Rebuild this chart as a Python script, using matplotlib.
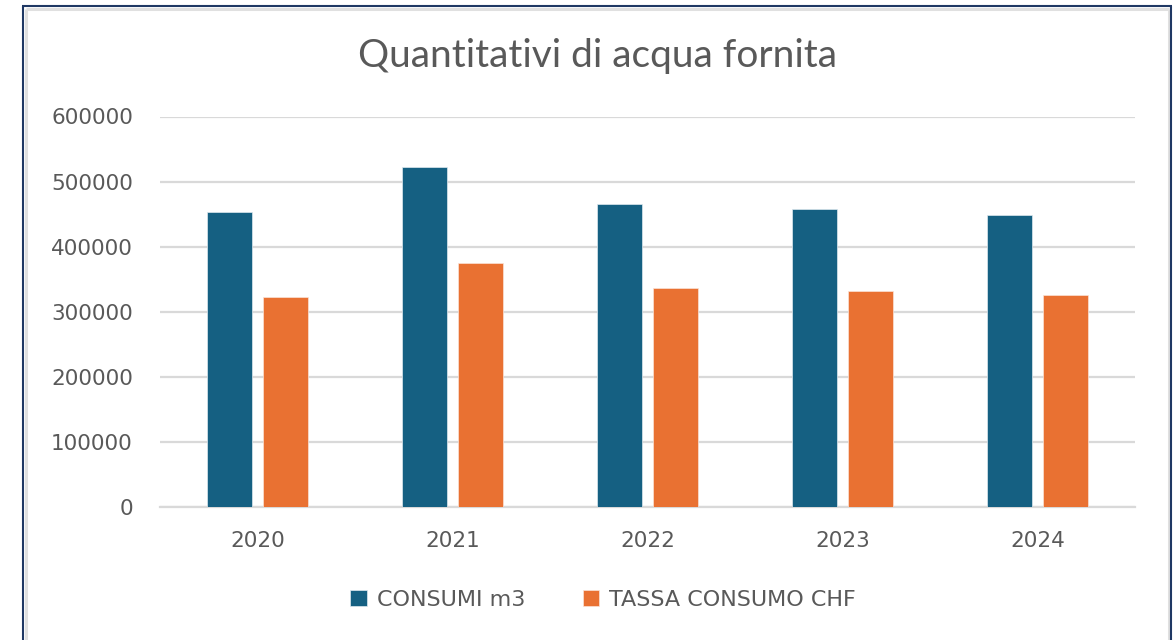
import matplotlib
matplotlib.use("Agg")
import matplotlib.pyplot as plt
from matplotlib.lines import Line2D
from matplotlib.patches import Patch
import numpy as np

years = ["2020", "2021", "2022", "2023", "2024"]
consumi_m3 = [453000, 523000, 466000, 457500, 449000]
tassa_chf = [323000, 374800, 336400, 332300, 325300]
series_names = ["CONSUMI m3", "TASSA CONSUMO CHF"]
yticks = [0, 100000, 200000, 300000, 400000, 500000, 600000]

BLUE = "#156082"
ORANGE = "#E97132"
TXT = "#595959"
GRID = "#D9D9D9"

W, H = 1176, 640
fig = plt.figure(figsize=(W / 100, H / 100), dpi=100)
fig.patch.set_facecolor("white")

ax = fig.add_axes([160 / W, 1 - 507 / H, 975 / W, (507 - 116.5) / H])
x = np.arange(len(years))
bw = 0.228
off = 0.143
ax.bar(x - off, consumi_m3, width=bw, color=BLUE, edgecolor="#dfe9ef", linewidth=0.5, zorder=3)
ax.bar(x + off, tassa_chf, width=bw, color=ORANGE, edgecolor="#fbe3d6", linewidth=0.5, zorder=3)

ax.set_xlim(-0.5, len(years) - 0.5)
ax.set_ylim(0, 600000)
ax.set_yticks(yticks)
ax.set_yticklabels([str(v) for v in yticks])
ax.set_xticks(x)
ax.set_xticklabels(years)
ax.yaxis.grid(True, color=GRID, linewidth=1.6, zorder=0)
ax.set_axisbelow(True)
for s in ["top", "right", "left"]:
    ax.spines[s].set_visible(False)
ax.spines["bottom"].set_color(GRID)
ax.spines["bottom"].set_linewidth(1.6)
ax.tick_params(axis="both", length=0, colors=TXT, labelsize=15.5)
ax.tick_params(axis="y", pad=19.5)
ax.tick_params(axis="x", pad=17.5)
for lab in ax.get_xticklabels() + ax.get_yticklabels():
    lab.set_family("DejaVu Sans")
    lab.set_color(TXT)

fig.text(597 / W, 1 - 56 / H, "Quantitativi di acqua fornita", ha="center", va="center",
         fontsize=28, color=TXT, family="Lato")

handles = [Patch(facecolor=BLUE, edgecolor="#dfe9ef", linewidth=0.5),
           Patch(facecolor=ORANGE, edgecolor="#fbe3d6", linewidth=0.5)]
fig.legend(handles, series_names, loc="center", bbox_to_anchor=(603 / W, 1 - 600 / H),
           ncol=2, frameon=False, labelcolor=TXT,
           handlelength=0.75, handleheight=0.75, handletextpad=0.45, columnspacing=2.6,
           prop={"family": "DejaVu Sans", "size": 16})

# outer frame
def fl(x0, y0, x1, y1, c, lw):
    fig.add_artist(Line2D([x0 / W, x1 / W], [1 - y0 / H, 1 - y1 / H], color=c, linewidth=lw,
                          transform=fig.transFigure, solid_capstyle="butt"))

fl(26, 9, 26, 640, "#E0E0E0", 2.2)
fl(26, 9, 1169, 9, "#E0E0E0", 2.2)
fl(1168.5, 9, 1168.5, 640, "#E0E0E0", 2.2)
fl(23, 6, 23, 640, "#1F3864", 1.5)
fl(22, 6, 1172, 6, "#1F3864", 1.5)
fl(1171, 6, 1171, 640, "#1F3864", 1.5)

fig.savefig("out.png", dpi=100, facecolor="white")
